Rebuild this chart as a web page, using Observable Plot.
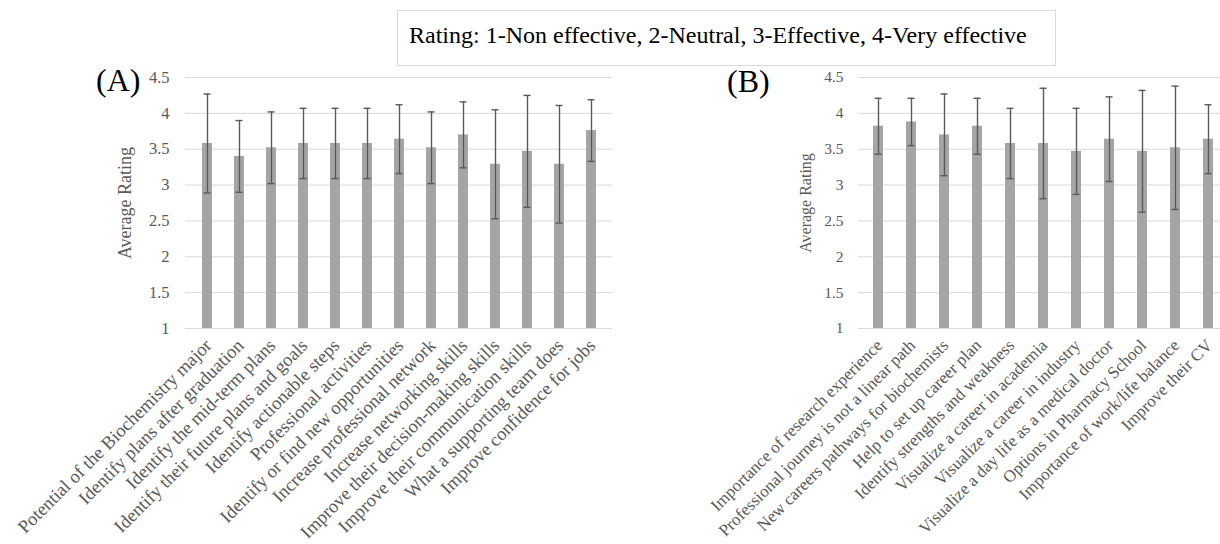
<!DOCTYPE html>
<html>
<head>
<meta charset="utf-8">
<script src="https://cdn.jsdelivr.net/npm/d3@7"></script>
<script src="https://cdn.jsdelivr.net/npm/@observablehq/plot@0.6"></script>
<style>
html, body { margin: 0; padding: 0; background: #fff; overflow: hidden; }
#wrap { position: relative; width: 1220px; height: 544px; font-family: "Liberation Serif", "Times New Roman", serif; }
#legend { position: absolute; left: 397px; top: 10px; width: 659px; height: 56px; box-sizing: border-box;
  border: 1px solid #d9d9d9; font-size: 24px; line-height: 48px; padding-left: 11px; color: #000; white-space: nowrap; }
.panel { position: absolute; top: 0; }
.tag { position: absolute; font-size: 32px; color: #000; line-height: 1; }
</style>
</head>
<body>
<div id="wrap">
  <div id="panelA" class="panel" style="left:0px"></div>
  <div id="panelB" class="panel" style="left:640px"></div>
  <div id="legend">Rating: 1-Non effective, 2-Neutral, 3-Effective, 4-Very effective</div>
  <div class="tag" style="left:96px; top:64px">(A)</div>
  <div class="tag" style="left:727px; top:65px">(B)</div>
</div>
<script>
const yTicks = [1, 1.5, 2, 2.5, 3, 3.5, 4, 4.5];
const yTickLabels = ["1", "1.5", "2", "2.5", "3", "3.5", "4", "4.5"];

const catsA = [
  "Potential of the Biochemistry major",
  "Identify plans after graduation",
  "Identify the mid-term plans",
  "Identify their future plans and goals",
  "Identify actionable steps",
  "Professional activities",
  "Identify or find new opportunities",
  "Increase professional network",
  "Increase networking skills",
  "Improve their decision-making skills",
  "Improve their communication skills",
  "What a supporting team does",
  "Improve confidence for jobs"
];
const meanA = [3.58, 3.40, 3.52, 3.58, 3.58, 3.58, 3.64, 3.52, 3.70, 3.29, 3.47, 3.29, 3.76];
const errA  = [0.69, 0.50, 0.50, 0.49, 0.49, 0.49, 0.48, 0.50, 0.46, 0.76, 0.78, 0.82, 0.43];

const catsB = [
  "Importance of research experience",
  "Professional journey is not a linear path",
  "New careers pathways for biochemists",
  "Help to set up career plan",
  "Identify strengths and weakness",
  "Visualize a career in academia",
  "Visualize a career in industry",
  "Visualize a day life as a medical doctor",
  "Options in Pharmacy School",
  "Importance of work/life balance",
  "Improve their CV"
];
const meanB = [3.82, 3.88, 3.70, 3.82, 3.58, 3.58, 3.47, 3.64, 3.47, 3.52, 3.64];
const errB  = [0.39, 0.33, 0.57, 0.39, 0.49, 0.77, 0.60, 0.59, 0.85, 0.86, 0.48];

function panel(cats, means, errs, o) {
  const data = cats.map((c, i) => ({c, m: means[i], lo: means[i] - errs[i], hi: means[i] + errs[i]}));
  return Plot.plot({
    width: o.width,
    height: 544,
    marginTop: 77,
    marginBottom: 216,
    marginLeft: o.left,
    marginRight: o.right,
    style: {fontFamily: "Liberation Serif, Times New Roman, serif", background: "transparent", overflow: "visible"},
    x: {domain: cats, range: o.xrange, paddingInner: 0.7, paddingOuter: 0.35},
    y: {domain: [1, 4.5]},
    marks: [
      Plot.gridY(yTicks, {stroke: "#d9d9d9", strokeOpacity: 1, strokeWidth: 1}),
      Plot.barY(data, {x: "c", y1: 1, y2: "m", fill: "#a5a5a5"}),
      Plot.ruleX(data, {x: "c", y1: "lo", y2: "hi", stroke: "#595959", strokeWidth: 1.4}),
      Plot.tickY(data, {x: "c", y: "hi", stroke: "#595959", strokeWidth: 1.4, insetLeft: 1.5, insetRight: 1.5}),
      Plot.tickY(data, {x: "c", y: "lo", stroke: "#595959", strokeWidth: 1.4, insetLeft: 1.5, insetRight: 1.5}),
      Plot.axisY({ticks: yTicks, tickFormat: (d) => yTickLabels[yTicks.indexOf(d)], tickSize: 0, tickPadding: o.tickPad,
        fontSize: o.tickFont, fill: "#595959", label: "Average Rating", labelAnchor: "center", labelArrow: "none",
        labelOffset: o.labelOffset}),
      Plot.axisX({tickSize: 0, tickRotate: -45, tickPadding: o.xpad, fontSize: o.xFont, fill: "#595959", label: null, dx: o.xdx})
    ]
  });
}

const svgA = panel(catsA, meanA, errA, {width: 640, left: 185, right: 28, xrange: [185, 612], tickPad: 16, tickFont: 16.5, labelOffset: 67, xFont: 18.5, xpad: 14, xdx: 1});
const svgB = panel(catsB, meanB, errB, {width: 580, left: 218, right: 0, xrange: [218, 588], tickPad: 15, tickFont: 15.5, labelOffset: 59, xFont: 17, xpad: 14, xdx: 1});

document.getElementById("panelA").appendChild(svgA);
document.getElementById("panelB").appendChild(svgB);
for (const [svg, fs] of [[svgA, 18], [svgB, 16]]) {
  svg.querySelectorAll("[aria-label='y-axis label']").forEach(el => el.setAttribute("font-size", fs));
}
</script>
</body>
</html>
